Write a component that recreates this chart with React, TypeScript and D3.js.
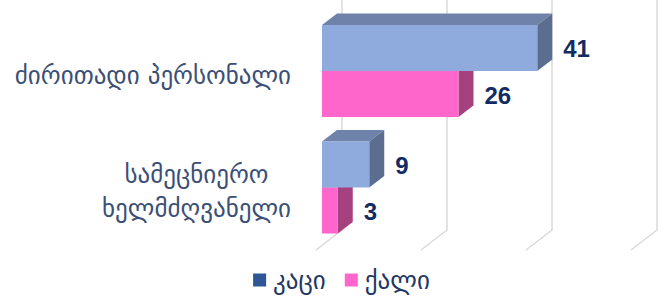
import React, { useEffect, useRef } from 'react'
import * as d3 from 'd3'

const categories = ['ძირითადი პერსონალი', 'სამეცნიერო ხელმძღვანელი']
const seriesNames = ['კაცი', 'ქალი']
const menValues = [41, 9]
const womenValues = [26, 3]
const gridTicks = [0, 20, 40, 60]

const W = 664
const H = 299
const blue = { front: '#8faadc', top: '#6e82aa', side: '#5c6e8f', legend: '#2f5597' }
const pink = { front: '#ff66cc', top: '#c94fa1', side: '#a6417f', legend: '#ff66cc' }
const geoFont = '"DejaVu Sans", sans-serif'

export default function App() {
  const ref = useRef<SVGSVGElement>(null)

  useEffect(() => {
    const svg = d3.select(ref.current)
    svg.selectAll('*').remove()

    // depth of the fake 3d: screen offset for a z step
    const slope = 0.77
    const off = (z: number) => [z, -z * slope]
    const barDepth = 15
    const wallZ = 20
    const floorFrontZ = -6
    const floorY = 245.4

    const x = d3.scaleLinear().domain([0, 60]).range([322, 637])
    const y = d3.scaleBand().domain(categories).range([12.75, 245.75]).paddingInner(0.21).paddingOuter(0.105)
    const ySeries = d3.scaleBand().domain(seriesNames).range([0, y.bandwidth()])

    // grid: back wall verticals + floor diagonals
    const grid = svg.append('g')
    gridTicks.forEach(t => {
      const [bx, by] = off(wallZ)
      const [fx, fy] = off(floorFrontZ)
      const p = d3.path()
      p.moveTo(x(t) + bx, 0)
      p.lineTo(x(t) + bx, floorY + by)
      p.lineTo(x(t) + fx, floorY + fy)
      grid.append('path')
        .attr('d', p.toString())
        .attr('fill', 'none')
        .attr('stroke', '#d9d9d9')
        .attr('stroke-width', 1.5)
    })

    const series = [
      { name: seriesNames[1], values: womenValues, c: pink },
      { name: seriesNames[0], values: menValues, c: blue },
    ]

    const [dx, dy] = off(barDepth)
    const bars = svg.append('g')
    categories.forEach((cat, i) => {
      series.forEach(s => {
        const v = s.values[i]
        const x0 = x(0)
        const x1 = x(v)
        const y0 = (y(cat) ?? 0) + (ySeries(s.name) ?? 0)
        const h = ySeries.bandwidth()
        const g = bars.append('g')
        g.append('polygon')
          .attr('points', [[x0, y0], [x0 + dx, y0 + dy], [x1 + dx, y0 + dy], [x1, y0]].join(' '))
          .attr('fill', s.c.top)
        g.append('polygon')
          .attr('points', [[x1, y0], [x1 + dx, y0 + dy], [x1 + dx, y0 + h + dy], [x1, y0 + h]].join(' '))
          .attr('fill', s.c.side)
        g.append('rect')
          .attr('x', x0).attr('y', y0)
          .attr('width', x1 - x0).attr('height', h)
          .attr('fill', s.c.front)
        svg.append('text')
          .attr('x', x1 + 26)
          .attr('y', y0 + h / 2 + 1)
          .attr('dominant-baseline', 'central')
          .attr('font-family', '"Liberation Sans", Arial, sans-serif')
          .attr('font-weight', 'bold')
          .attr('font-size', 24)
          .attr('fill', '#132b63')
          .text(v)
      })
    })

    // category labels, wrapped and centered in a right aligned block
    const labelRight = 291
    const maxW = 290
    const lineH = 34
    categories.forEach(cat => {
      const g = svg.append('g')
        .attr('font-family', geoFont)
        .attr('font-size', 25)
        .attr('fill', '#3b4f76')
      const probe = g.append('text')
      const measure = (s: string) => {
        probe.text(s)
        return (probe.node() as SVGTextElement).getComputedTextLength()
      }
      const words = cat.split(' ')
      const lines: string[] = []
      let cur = ''
      words.forEach(w => {
        const t = cur ? cur + ' ' + w : w
        if (cur && measure(t) > maxW) { lines.push(cur); cur = w } else cur = t
      })
      lines.push(cur)
      const blockW = d3.max(lines, l => measure(l)) ?? 0
      probe.remove()
      const cy = (y(cat) ?? 0) + y.bandwidth() / 2 + 4
      lines.forEach((l, k) => {
        g.append('text')
          .attr('x', labelRight - blockW / 2)
          .attr('y', cy + (k - (lines.length - 1) / 2) * lineH)
          .attr('text-anchor', 'middle')
          .attr('dominant-baseline', 'central')
          .text(l)
      })
    })

    // legend
    const legend = svg.append('g')
      .attr('font-family', geoFont)
      .attr('font-size', 25)
      .attr('fill', '#1f3864')
    const items = [
      { name: seriesNames[0], color: blue.legend },
      { name: seriesNames[1], color: pink.legend },
    ]
    let lx = 0
    items.forEach(it => {
      legend.append('rect')
        .attr('x', lx).attr('y', -6.5)
        .attr('width', 13).attr('height', 13)
        .attr('fill', it.color)
      const t = legend.append('text')
        .attr('x', lx + 20)
        .attr('y', 0)
        .attr('dominant-baseline', 'central')
        .text(it.name)
      lx += 20 + (t.node() as SVGTextElement).getComputedTextLength() + 19
    })
    const legendW = lx - 19
    legend.attr('transform', `translate(${341.5 - legendW / 2},280)`)
  }, [])

  return (
    <svg ref={ref} width={W} height={H} style={{ position: 'absolute', left: 0, top: 0, background: '#fff' }} />
  )
}
